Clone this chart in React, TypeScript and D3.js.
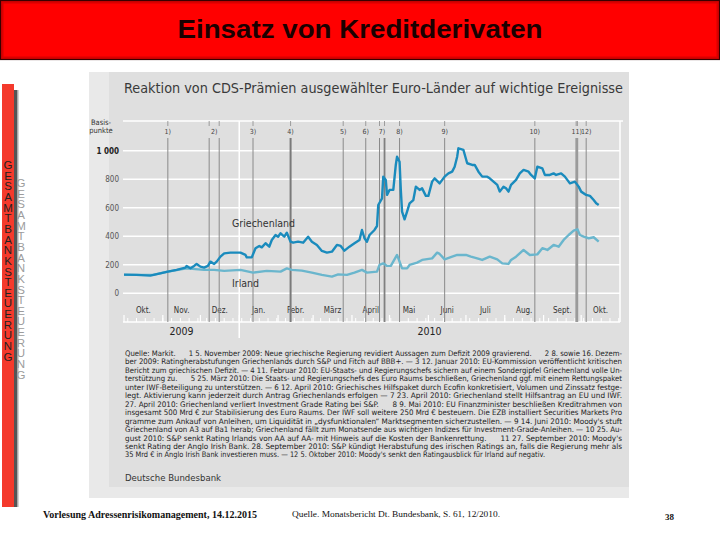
import React from "react";
import * as d3 from "d3";

// ---------- data ----------
const greece: [string, number][] = [
  ["2009-10-01", 131], ["2009-10-11", 129], ["2009-10-22", 124], ["2009-10-30", 140],
  ["2009-11-05", 152], ["2009-11-12", 164], ["2009-11-19", 180], ["2009-11-20", 192],
  ["2009-11-23", 175], ["2009-11-26", 192], ["2009-11-28", 206], ["2009-12-01", 187],
  ["2009-12-04", 180], ["2009-12-07", 192], ["2009-12-09", 222], ["2009-12-12", 206],
  ["2009-12-14", 222], ["2009-12-17", 257], ["2009-12-20", 280], ["2009-12-25", 285],
  ["2010-01-02", 285], ["2010-01-06", 269], ["2010-01-07", 252], ["2010-01-11", 252],
  ["2010-01-14", 316], ["2010-01-17", 332], ["2010-01-19", 322], ["2010-01-22", 351],
  ["2010-01-25", 327], ["2010-01-27", 374], ["2010-01-30", 409], ["2010-02-01", 397],
  ["2010-02-03", 421], ["2010-02-06", 397], ["2010-02-08", 425], ["2010-02-11", 362],
  ["2010-02-13", 355], ["2010-02-17", 362], ["2010-02-21", 355], ["2010-02-25", 397],
  ["2010-02-28", 362], ["2010-03-04", 339], ["2010-03-08", 297], ["2010-03-12", 285],
  ["2010-03-16", 292], ["2010-03-20", 339], ["2010-03-23", 332], ["2010-03-26", 299],
  ["2010-03-30", 327], ["2010-04-03", 351], ["2010-04-07", 374], ["2010-04-09", 444],
  ["2010-04-11", 386], ["2010-04-13", 362], ["2010-04-15", 409], ["2010-04-19", 444],
  ["2010-04-21", 472], ["2010-04-22", 619], ["2010-04-25", 666], ["2010-04-26", 818],
  ["2010-04-28", 795], ["2010-04-29", 690], ["2010-05-01", 725], ["2010-05-04", 725],
  ["2010-05-06", 900], ["2010-05-07", 958], ["2010-05-09", 923], ["2010-05-10", 725],
  ["2010-05-11", 573], ["2010-05-13", 519], ["2010-05-15", 573], ["2010-05-17", 631],
  ["2010-05-20", 654], ["2010-05-22", 748], ["2010-05-25", 725], ["2010-05-27", 736],
  ["2010-05-30", 683], ["2010-06-01", 683], ["2010-06-04", 783], ["2010-06-06", 806],
  ["2010-06-10", 771], ["2010-06-14", 818], ["2010-06-17", 841], ["2010-06-20", 853],
  ["2010-06-22", 888], ["2010-06-24", 958], ["2010-06-25", 1017], ["2010-06-29", 1005],
  ["2010-07-02", 912], ["2010-07-06", 900], ["2010-07-08", 900], ["2010-07-11", 853],
  ["2010-07-14", 818], ["2010-07-18", 818], ["2010-07-20", 806], ["2010-07-23", 783],
  ["2010-07-26", 760], ["2010-07-28", 713], ["2010-07-31", 748], ["2010-08-02", 736],
  ["2010-08-04", 713], ["2010-08-06", 760], ["2010-08-10", 795], ["2010-08-13", 841],
  ["2010-08-16", 865], ["2010-08-20", 853], ["2010-08-22", 830], ["2010-08-25", 806],
  ["2010-08-27", 888], ["2010-08-31", 876], ["2010-09-02", 830], ["2010-09-06", 830],
  ["2010-09-09", 841], ["2010-09-11", 830], ["2010-09-15", 841], ["2010-09-18", 818],
  ["2010-09-22", 771], ["2010-09-26", 783], ["2010-09-29", 748], ["2010-10-01", 713],
  ["2010-10-05", 690], ["2010-10-08", 683], ["2010-10-11", 654], ["2010-10-13", 631],
  ["2010-10-15", 619],
];

const ireland: [string, number][] = [
  ["2009-10-01", 129], ["2009-10-24", 129], ["2009-11-05", 152], ["2009-11-20", 175],
  ["2009-12-04", 164], ["2009-12-12", 164], ["2009-12-20", 157], ["2010-01-02", 164],
  ["2010-01-12", 145], ["2010-01-23", 157], ["2010-02-03", 152], ["2010-02-08", 175],
  ["2010-02-12", 164], ["2010-02-20", 159], ["2010-02-28", 145], ["2010-03-08", 129],
  ["2010-03-16", 117], ["2010-03-21", 133], ["2010-03-28", 129], ["2010-04-03", 145],
  ["2010-04-09", 164], ["2010-04-13", 145], ["2010-04-21", 152], ["2010-04-23", 199],
  ["2010-04-26", 210], ["2010-04-29", 192], ["2010-05-02", 192], ["2010-05-07", 269],
  ["2010-05-11", 175], ["2010-05-15", 175], ["2010-05-17", 199], ["2010-05-23", 215],
  ["2010-05-27", 234], ["2010-06-04", 245], ["2010-06-08", 285], ["2010-06-10", 276],
  ["2010-06-14", 238], ["2010-06-20", 257], ["2010-06-24", 269], ["2010-07-01", 269],
  ["2010-07-05", 257], ["2010-07-10", 245], ["2010-07-14", 234], ["2010-07-20", 257],
  ["2010-07-26", 238], ["2010-07-30", 210], ["2010-08-04", 206], ["2010-08-06", 234],
  ["2010-08-10", 257], ["2010-08-16", 304], ["2010-08-21", 269], ["2010-08-27", 273],
  ["2010-08-31", 316], ["2010-09-04", 304], ["2010-09-09", 339], ["2010-09-13", 327],
  ["2010-09-17", 374], ["2010-09-21", 409], ["2010-09-25", 439], ["2010-09-28", 449],
  ["2010-09-30", 409], ["2010-10-03", 397], ["2010-10-07", 386], ["2010-10-11", 393],
  ["2010-10-15", 362],
];

const monthLabels = ["Okt.", "Nov.", "Dez.", "Jan.", "Febr.", "März", "April", "Mai", "Juni", "Juli", "Aug.", "Sept.", "Okt."];
const yTicks = [0, 200, 400, 600, 800, 1000];
const yTickLabels = ["0", "200", "400", "600", "800", "1 000"];
const yearLabels = ["2009", "2010"];
const eventLabels = ["1)", "2)", "3)", "4)", "5)", "6)", "7)", "8)", "9)", "10)", "11)", "12)"];
const eventDates: string[][] = [
  ["2009-11-05"], ["2009-12-08", "2009-12-16"], ["2010-01-12"], ["2010-02-11"],
  ["2010-03-25"], ["2010-04-12"], ["2010-04-23", "2010-04-27"], ["2010-05-09"],
  ["2010-06-14"], ["2010-08-25"], ["2010-09-27", "2010-09-28"], ["2010-10-05"],
];
const seriesNames = ["Griechenland", "Irland"];
const sideText = "GESAMTBANKSTEUERUNG";

const footnoteLines = [
  "Quelle: Markit.      1 5. November 2009: Neue griechische Regierung revidiert Aussagen zum Defizit 2009 gravierend.      2 8. sowie 16. Dezem-",
  "ber 2009: Ratingherabstufungen Griechenlands durch S&P und Fitch auf BBB+. — 3 12. Januar 2010: EU-Kommission veröffentlicht kritischen",
  "Bericht zum griechischen Defizit. — 4 11. Februar 2010: EU-Staats- und Regierungschefs sichern auf einem Sondergipfel Griechenland volle Un-",
  "terstützung zu.      5 25. März 2010: Die Staats- und Regierungschefs des Euro Raums beschließen, Griechenland ggf. mit einem Rettungspaket",
  "unter IWF-Beteiligung zu unterstützen. — 6 12. April 2010: Griechisches Hilfspaket durch Ecofin konkretisiert, Volumen und Zinssatz festge-",
  "legt. Aktivierung kann jederzeit durch Antrag Griechenlands erfolgen — 7 23. April 2010: Griechenland stellt Hilfsantrag an EU und IWF.",
  "27. April 2010: Griechenland verliert Investment Grade Rating bei S&P.      8 9. Mai 2010: EU Finanzminister beschließen Kreditrahmen von",
  "insgesamt 500 Mrd € zur Stabilisierung des Euro Raums. Der IWF soll weitere 250 Mrd € besteuern. Die EZB installiert Securities Markets Pro",
  "gramme zum Ankauf von Anleihen, um Liquidität in „dysfunktionalen“ Marktsegmenten sicherzustellen. — 9 14. Juni 2010: Moody's stuft",
  "Griechenland von A3 auf Ba1 herab; Griechenland fällt zum Monatsende aus wichtigen Indizes für Investment-Grade-Anleihen. — 10 25. Au-",
  "gust 2010: S&P senkt Rating Irlands von AA auf AA- mit Hinweis auf die Kosten der Bankenrettung.      11 27. September 2010: Moody's",
  "senkt Rating der Anglo Irish Bank. 28. September 2010: S&P kündigt Herabstufung des irischen Ratings an, falls die Regierung mehr als",
  "35 Mrd € in Anglo Irish Bank investieren muss. — 12 5. Oktober 2010: Moody's senkt den Ratingausblick für Irland auf negativ.",
];

const mainTitle = "Einsatz von Kreditderivaten";
const chartTitle = "Reaktion von CDS-Prämien ausgewählter Euro-Länder auf wichtige Ereignisse";
const footerLeft = "Vorlesung Adressenrisikomanagement, 14.12.2015";
const footerSource = "Quelle. Monatsbericht Dt. Bundesbank, S. 61, 12/2010.";
const pageNumber = "38";

// ---------- component ----------
const SANS = "'Liberation Sans Narrow', 'DejaVu Sans Condensed', 'Open Sans', 'Liberation Sans', sans-serif";
const ARIAL = "'Liberation Sans', Arial, sans-serif";
const SERIF = "'Liberation Serif', 'Times New Roman', serif";

export default function App() {
  const parse = d3.timeParse("%Y-%m-%d");
  const start = new Date(2009, 9, 1);
  const end = new Date(2010, 10, 1);
  const x = d3.scaleTime().domain([start, end]).range([124, 620]);
  const y = d3.scaleLinear().domain([0, 1000]).range([293.3, 150.7]);
  const line = d3
    .line<[string, number]>()
    .x((d) => x(parse(d[0]) as Date))
    .y((d) => y(d[1]));

  const months = d3.timeMonth.range(start, end);
  const weeks = d3.timeWeek.range(start, end);
  const plotLeft = 123;
  const plotRight = 620;
  const plotTop = 121;
  const axisY = 322;
  const yearBoundary = x(new Date(2010, 0, 1));

  const eventStyle = (i: number, j: number) => {
    if (i === 3) return { w: 2, c: "#7a7a7a" };
    if (i === 6 && j === 1) return { w: 1.8, c: "#808080" };
    if (i === 10) return { w: 1.6, c: "#9a9a9a" };
    return { w: 1, c: "#8a8a8a" };
  };

  return (
    <svg width={720} height={540} style={{ position: "absolute", left: 0, top: 0, background: "#fff" }}>
      {/* title bar */}
      <rect x={0} y={0} width={720} height={60} fill="#ff0000" />
      <rect x={2} y={2} width={716} height={56} fill="none" stroke="#d80000" strokeWidth={3} />
      <rect x={0.5} y={0.5} width={719} height={59} fill="none" stroke="#3a0000" strokeWidth={1.2} />
      <text
        x={360}
        y={38}
        textAnchor="middle"
        fontFamily={ARIAL}
        fontWeight="bold"
        fontSize={26}
        fill="#1a0000"
        textLength={365}
        lengthAdjust="spacingAndGlyphs"
      >
        {mainTitle}
      </text>

      {/* left vertical bar */}
      <rect x={14} y={90} width={4} height={417} fill="#555" />
      <rect x={17} y={90} width={1.5} height={417} fill="#aaa" />
      <rect x={2} y={84} width={12} height={423} fill="#f43a2c" />
      {sideText.split("").map((ch, i) => (
        <text key={"s" + i} x={21} y={187 + i * 10.65} textAnchor="middle" fontFamily={ARIAL} fontSize={11.5} fill="#9c9c9c">
          {ch}
        </text>
      ))}
      {sideText.split("").map((ch, i) => (
        <text key={"t" + i} x={8} y={169 + i * 10.65} textAnchor="middle" fontFamily={ARIAL} fontSize={11.5} fill="#222">
          {ch}
        </text>
      ))}

      {/* chart panel */}
      <rect x={89} y={72} width={540} height={426} fill="#e9e9e9" />
      <rect x={109} y={72} width={520} height={415} fill="#dfdfdf" />
      <text
        x={124}
        y={93}
        fontFamily={SANS}
        fontSize={14.5}
        fill="#3a3a3a"
        textLength={499}
        lengthAdjust="spacingAndGlyphs"
      >
        {chartTitle}
      </text>

      {/* Basis-punkte */}
      <text x={101} y={125} textAnchor="middle" fontFamily={SANS} fontSize={7.5} fill="#333">Basis-</text>
      <text x={101} y={133} textAnchor="middle" fontFamily={SANS} fontSize={7.5} fill="#333">punkte</text>

      {/* plot frame (white) */}
      <line x1={plotLeft} x2={plotRight + 3} y1={plotTop} y2={plotTop} stroke="#fff" strokeWidth={1.5} />
      <line x1={plotRight} x2={plotRight} y1={plotTop} y2={axisY} stroke="#fff" strokeWidth={1.5} />
      <line x1={yearBoundary} x2={yearBoundary} y1={plotTop} y2={338} stroke="#fff" strokeWidth={1.5} />

      {/* grid */}
      {yTicks.map((t, i) => (
        <g key={"g" + t}>
          <line x1={plotLeft} x2={plotRight} y1={y(t)} y2={y(t)} stroke="#fff" strokeWidth={1.6} />
          <text
            x={119}
            y={y(t) + 3}
            textAnchor="end"
            fontFamily={SANS}
            fontSize={8}
            fontWeight={t === 1000 ? "bold" : "normal"}
            fill={t === 1000 ? "#222" : "#555"}
          >
            {yTickLabels[i]}
          </text>
        </g>
      ))}

      {/* bottom axis */}
      <line x1={plotLeft} x2={plotRight} y1={axisY} y2={axisY} stroke="#fff" strokeWidth={1.5} />
      {weeks.map((w, i) => (
        <line key={"w" + i} x1={x(w)} x2={x(w)} y1={axisY} y2={axisY - 4} stroke="#fff" strokeWidth={1} />
      ))}
      {months.map((m, i) => (
        <line key={"m" + i} x1={x(m)} x2={x(m)} y1={axisY} y2={axisY - 7} stroke="#fff" strokeWidth={1.2} />
      ))}
      {months.map((m, i) => {
        const next = d3.timeMonth.offset(m, 1);
        return (
          <text key={"ml" + i} x={(x(m) + x(next)) / 2} y={313} textAnchor="middle" fontFamily={SANS} fontSize={8} fill="#333">
            {monthLabels[i]}
          </text>
        );
      })}
      <text x={(x(start) + yearBoundary) / 2} y={335} textAnchor="middle" fontFamily={SANS} fontSize={10.5} fill="#222">
        {yearLabels[0]}
      </text>
      <text x={(yearBoundary + x(end)) / 2} y={335} textAnchor="middle" fontFamily={SANS} fontSize={10.5} fill="#222">
        {yearLabels[1]}
      </text>

      {/* events */}
      {eventDates.map((ds, i) => {
        const xs = ds.map((d) => x(parse(d) as Date));
        const cx = d3.mean(xs) as number;
        return (
          <g key={"e" + i}>
            {xs.map((xx, j) => {
              const st = eventStyle(i, j);
              return (
                <g key={j}>
                  <line x1={xx} x2={xx} y1={plotTop} y2={plotTop + 5} stroke="#8a8a8a" strokeWidth={0.8} />
                  <line x1={xx} x2={xx} y1={138} y2={axisY} stroke={st.c} strokeWidth={st.w} />
                </g>
              );
            })}
            <text x={cx} y={134} textAnchor="middle" fontFamily={SANS} fontSize={7} fill="#444">
              {eventLabels[i]}
            </text>
          </g>
        );
      })}

      {/* series */}
      <path d={line(ireland) || ""} fill="none" stroke="#6ab6cd" strokeWidth={2.4} strokeLinejoin="round" />
      <path d={line(greece) || ""} fill="none" stroke="#1a8bbd" strokeWidth={2.4} strokeLinejoin="round" />
      <text x={232} y={227} fontFamily={SANS} fontSize={10.5} fill="#333">{seriesNames[0]}</text>
      <text x={232} y={287} fontFamily={SANS} fontSize={10.5} fill="#333">{seriesNames[1]}</text>

      {/* footnotes */}
      {footnoteLines.map((l, i) => (
        <text
          key={"f" + i}
          x={125}
          y={356 + i * 8.45}
          fontFamily={SANS}
          fontSize={7.6}
          fill="#222"
          textLength={i === footnoteLines.length - 1 ? 420 : 497}
          lengthAdjust="spacingAndGlyphs"
          style={{ whiteSpace: "pre" }}
        >
          {l}
        </text>
      ))}
      <text x={125} y={481} fontFamily={SANS} fontSize={9.5} fill="#333">Deutsche Bundesbank</text>

      {/* footer */}
      <text x={43} y={518} fontFamily={SERIF} fontSize={10} fontWeight="bold" fill="#111" textLength={214} lengthAdjust="spacingAndGlyphs">
        {footerLeft}
      </text>
      <text x={292} y={517} fontFamily={SERIF} fontSize={8} fill="#111" textLength={208} lengthAdjust="spacingAndGlyphs">
        {footerSource}
      </text>
      <text x={665} y={520} fontFamily={SERIF} fontSize={9} fontWeight="bold" fill="#111">{pageNumber}</text>
    </svg>
  );
}
